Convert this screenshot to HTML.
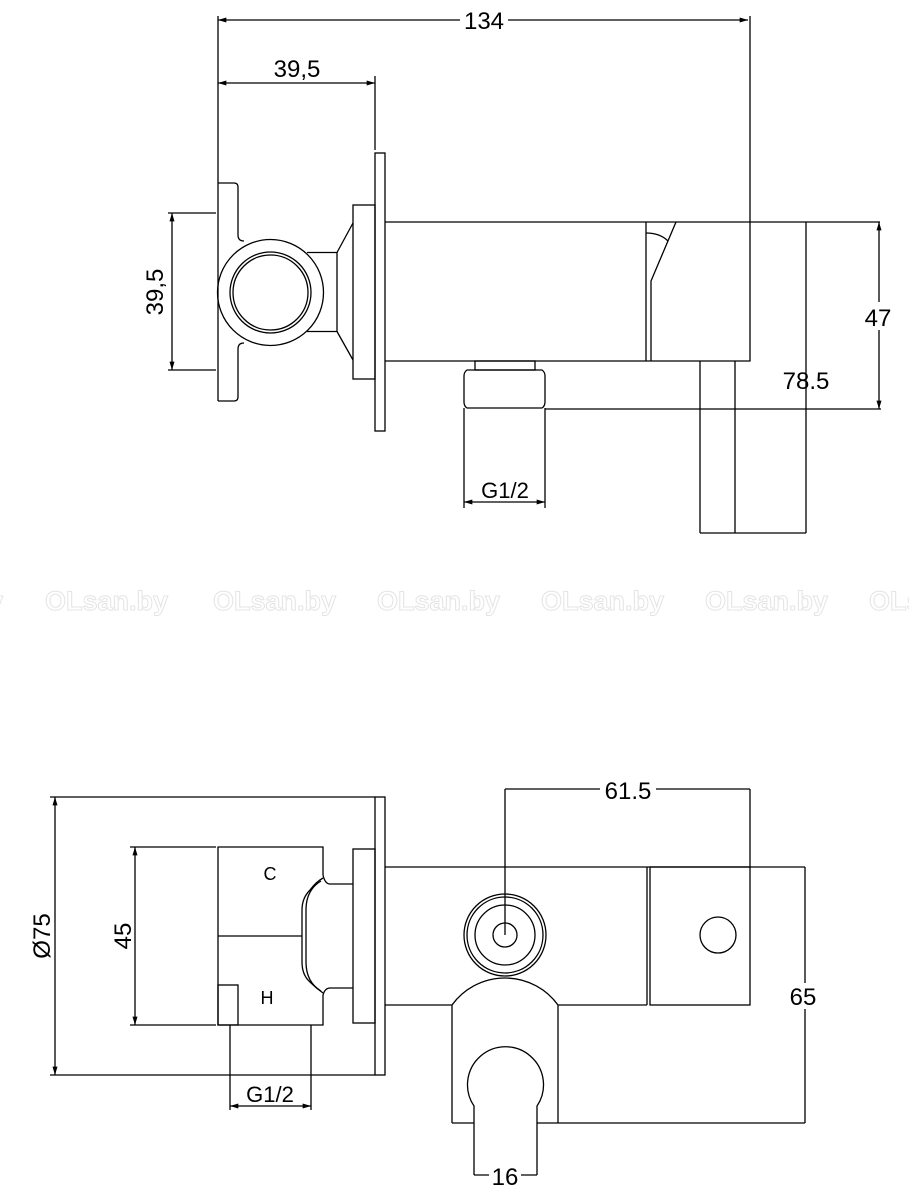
<!DOCTYPE html>
<html><head><meta charset="utf-8"><style>
html,body{margin:0;padding:0;background:#fff;}
svg{display:block;}
text{font-family:"Liberation Sans",Arial,sans-serif;fill:#000;}
</style></head><body>
<svg width="909" height="1200" viewBox="0 0 909 1200" xmlns="http://www.w3.org/2000/svg">
<defs>
<marker id="a" viewBox="0 0 10 6" refX="10" refY="3" markerWidth="9" markerHeight="5" orient="auto-start-reverse" markerUnits="userSpaceOnUse"><path d="M0,0 L10,3 L0,6 z" fill="#000"/></marker>
</defs>
<g fill="none" stroke="#000" stroke-width="1.3">
<!-- TOP VIEW -->
<line x1="218" y1="20" x2="748" y2="20" marker-start="url(#a)" marker-end="url(#a)"/>
<line x1="218" y1="16" x2="218" y2="183"/>
<line x1="750" y1="16" x2="750" y2="222"/>
<line x1="218" y1="83" x2="375" y2="83" marker-start="url(#a)" marker-end="url(#a)"/>
<line x1="375" y1="76" x2="375" y2="150"/>
<line x1="168" y1="213" x2="216" y2="213"/>
<line x1="168" y1="370" x2="216" y2="370"/>
<line x1="172" y1="213" x2="172" y2="370" marker-start="url(#a)" marker-end="url(#a)"/>
<!-- left flange -->
<path d="M218,183 L234,183 Q238,183 238,187 L238,235 Q238,241 244,241"/>
<path d="M244,343 Q238,343 238,349 L238,397 Q238,401 234,401 L218,401"/>
<line x1="218" y1="183" x2="218" y2="401"/>
<circle cx="270.5" cy="292.5" r="53"/>
<circle cx="270.5" cy="292.5" r="40.5"/>
<circle cx="270.5" cy="292.5" r="37.5"/>
<path d="M307,252.5 L337,252.5 L337,331.5 L307,331.5"/>
<path d="M337,252.5 L353,223 M337,331.5 L353,360"/>
<rect x="353" y="205" width="22" height="174"/>
<rect x="375" y="153" width="10" height="278"/>
<!-- body -->
<path d="M385,222 L880,222"/>
<path d="M385,361 L750,361 L750,222"/>
<line x1="646" y1="222" x2="646" y2="361"/>
<path d="M651,361 L651,281 L676,222"/>
<path d="M646,233 Q660,233 668,241"/>
<line x1="700" y1="361" x2="700" y2="533"/>
<line x1="735" y1="361" x2="735" y2="533"/>
<line x1="806" y1="222" x2="806" y2="533"/>
<line x1="700" y1="533" x2="806" y2="533"/>
<line x1="879" y1="222" x2="879" y2="409" marker-start="url(#a)" marker-end="url(#a)"/>
<line x1="545" y1="409" x2="881" y2="409"/>
<!-- nipple -->
<rect x="475" y="361" width="60" height="9"/>
<path d="M467,370 L542,370 Q545,372 545,376 L545,402 Q545,406 542,408 L467,408 Q464,406 464,402 L464,376 Q464,372 467,370 Z"/>
<line x1="464" y1="408" x2="464" y2="508"/>
<line x1="545" y1="408" x2="545" y2="508"/>
<line x1="464" y1="502" x2="545" y2="502" marker-start="url(#a)" marker-end="url(#a)"/>

<!-- BOTTOM VIEW -->
<line x1="50" y1="797" x2="375" y2="797"/>
<line x1="50" y1="1075" x2="375" y2="1075"/>
<line x1="55" y1="797" x2="55" y2="1075" marker-start="url(#a)" marker-end="url(#a)"/>
<rect x="375" y="797" width="10" height="278"/>
<line x1="130" y1="847" x2="216" y2="847"/>
<line x1="130" y1="1025" x2="216" y2="1025"/>
<line x1="135" y1="847" x2="135" y2="1025" marker-start="url(#a)" marker-end="url(#a)"/>
<path d="M323,875 L323,847 L218,847 L218,1025 L323,1025 L323,995"/>
<line x1="218" y1="936" x2="302" y2="936"/>
<rect x="218" y="985" width="20" height="40"/>
<path d="M323,875 Q325,884 330,884 L353,884"/>
<path d="M323,878 Q316,882 310,890 Q302,898 302,910 L302,962 Q302,975 310,982 Q316,988 323,993"/>
<path d="M323,995 Q325,988 330,988 L353,988"/>
<path d="M321,881 Q306,890 306,910 L306,962 Q306,982 321,991"/>
<rect x="353" y="849" width="22" height="174"/>
<line x1="230" y1="1025" x2="230" y2="1110"/>
<line x1="311" y1="1025" x2="311" y2="1110"/>
<line x1="230" y1="1106" x2="311" y2="1106" marker-start="url(#a)" marker-end="url(#a)"/>
<line x1="385" y1="867" x2="805" y2="867"/>
<line x1="385" y1="1005" x2="452" y2="1005"/>
<line x1="558" y1="1005" x2="647" y2="1005"/>
<line x1="647" y1="867" x2="647" y2="1005"/>
<rect x="650" y="867" width="100" height="138"/>
<circle cx="718" cy="935" r="18"/>
<circle cx="505" cy="935" r="41"/>
<circle cx="505" cy="935" r="38"/>
<circle cx="505" cy="935" r="30"/>
<circle cx="505" cy="935" r="12"/>
<line x1="505" y1="789" x2="505" y2="935"/>
<line x1="505" y1="789" x2="750" y2="789"/>
<line x1="750" y1="789" x2="750" y2="867"/>
<path d="M452,1123 L452,1005 A65.5,65.5 0 0 1 558,1005 L558,1123"/>
<line x1="452" y1="1123" x2="474" y2="1123"/>
<line x1="537" y1="1123" x2="805" y2="1123"/>
<line x1="805" y1="867" x2="805" y2="1123"/>
<path d="M474,1175 L474,1106 A38,38 0 1 1 537,1106 L537,1175"/>
<line x1="474" y1="1175" x2="537" y2="1175"/>
</g>
<!-- watermark -->
<g font-size="27" font-weight="bold" style="font-family:'DejaVu Sans',sans-serif">
<text x="-120" y="610" style="fill:none;stroke:#e4e4e4;stroke-width:1">OLsan.by</text>
<text x="45" y="610" style="fill:none;stroke:#e4e4e4;stroke-width:1">OLsan.by</text>
<text x="213" y="610" style="fill:none;stroke:#e4e4e4;stroke-width:1">OLsan.by</text>
<text x="377" y="610" style="fill:none;stroke:#e4e4e4;stroke-width:1">OLsan.by</text>
<text x="541" y="610" style="fill:none;stroke:#e4e4e4;stroke-width:1">OLsan.by</text>
<text x="705" y="610" style="fill:none;stroke:#e4e4e4;stroke-width:1">OLsan.by</text>
<text x="869" y="610" style="fill:none;stroke:#e4e4e4;stroke-width:1">OLsan.by</text>
</g>
<!-- labels -->
<g font-size="24">
<rect x="460" y="8" width="48" height="24" fill="#fff"/>
<text x="484" y="29" text-anchor="middle">134</text>
<text x="297" y="77" text-anchor="middle">39,5</text>
<text x="163" y="292" text-anchor="middle" transform="rotate(-90 163 292)">39,5</text>
<rect x="862" y="302" width="34" height="28" fill="#fff"/>
<text x="878" y="326" text-anchor="middle">47</text>
<text x="806" y="389" text-anchor="middle">78.5</text>
<text x="505" y="498" text-anchor="middle" font-size="22">G1/2</text>
<text x="50" y="936" text-anchor="middle" transform="rotate(-90 50 936)">Ø75</text>
<text x="131" y="936" text-anchor="middle" transform="rotate(-90 131 936)">45</text>
<text x="270" y="880" text-anchor="middle" font-size="18">C</text>
<text x="267" y="1004" text-anchor="middle" font-size="18">H</text>
<text x="270" y="1102" text-anchor="middle" font-size="22">G1/2</text>
<rect x="600" y="777" width="56" height="24" fill="#fff"/>
<text x="628" y="799" text-anchor="middle">61.5</text>
<rect x="787" y="983" width="34" height="26" fill="#fff"/>
<text x="803" y="1005" text-anchor="middle">65</text>
<rect x="489" y="1163" width="32" height="28" fill="#fff"/>
<text x="505" y="1185" text-anchor="middle">16</text>
</g>
</svg>
</body></html>
